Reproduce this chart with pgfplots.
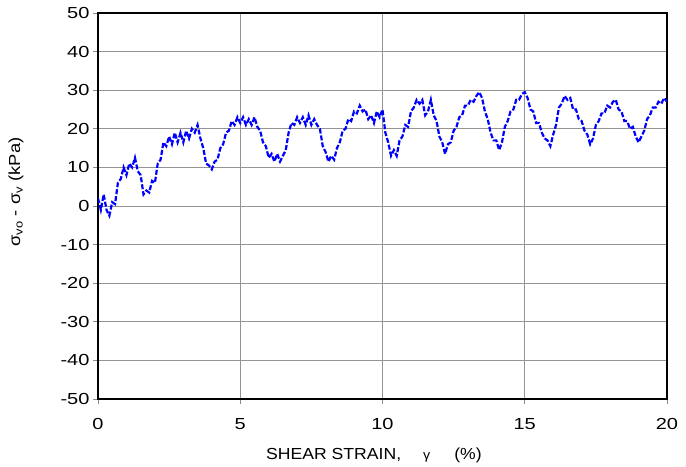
\documentclass[border=0pt]{standalone}
\usepackage{fontspec}
\setmainfont{Liberation Sans}
\newfontfamily\tickfont{Liberation Sans}[FakeStretch=1.25]
\newfontfamily\xlabfont{Liberation Sans}[FakeStretch=1.1]
\newfontfamily\ylabfont{Liberation Sans}[FakeStretch=1.15]
\usepackage{pgfplots}
\pgfplotsset{compat=1.18}
\begin{document}
\begin{tikzpicture}
\begin{axis}[name=ax,
  width=569pt, height=386pt, scale only axis,
  xmin=0, xmax=20, ymin=-50, ymax=50,
  xtick={0,5,10,15,20}, ytick={-50,-40,...,50},
  xtick pos=bottom, ytick pos=left,
  tick align=outside, major tick length=5pt,
  tick style={black!45, line width=0.8pt},
  grid=major, grid style={black!42, line width=0.8pt},
  axis line style={black, line width=1.4pt},
  /pgf/number format/assume math mode=true,
  tick label style={font=\tickfont\fontsize{16}{18}\selectfont},
  xticklabel style={yshift=-11pt},
  xlabel={\xlabfont\fontsize{16}{18}\selectfont SHEAR STRAIN,\hspace{22pt}\raisebox{0.5pt}{\fontsize{13}{14}\selectfont γ}\hspace{24pt}(\%)},
  ylabel={\ylabfont\fontsize{16}{18}\selectfont σ\textsubscript{vo} - σ\textsubscript{v} (kPa)},
  xlabel style={at={(axis description cs:0.485,0)}, anchor=base, yshift=-61pt},
  ylabel style={at={([xshift=-71pt]axis description cs:0,0.536)}, anchor=south},
]
\addplot[blue, line width=2.2pt, dash pattern=on 5pt off 2pt] coordinates {
(0.0,2) (0.1,-1) (0.2,3) (0.3,-1) (0.4,-2.5) (0.5,1) (0.6,0.5) (0.7,6) (0.8,7) (0.9,10)
(1.0,8) (1.1,11) (1.2,10) (1.3,12.5) (1.4,9) (1.5,8) (1.6,3) (1.7,4) (1.8,3.5) (1.9,6.5)
(2.0,6) (2.1,11) (2.2,12) (2.3,16.5) (2.4,15.5) (2.5,18) (2.6,16) (2.7,19) (2.8,16.5) (2.9,19)
(3.0,16.5) (3.1,19.5) (3.2,17.5) (3.3,20) (3.4,19) (3.5,21) (3.6,17.5) (3.7,15) (3.8,11) (3.9,10.5)
(4.0,9.5) (4.1,11.5) (4.2,12) (4.3,15) (4.4,16) (4.5,19) (4.6,19.5) (4.7,22) (4.8,21) (4.9,23)
(5.0,21.5) (5.1,23) (5.2,21) (5.3,22.5) (5.4,21) (5.5,23) (5.6,20.5) (5.7,19.5) (5.8,16.5) (5.9,15.5)
(6.0,12.5) (6.1,13.5) (6.2,11.5) (6.3,13.5) (6.4,11.5) (6.5,13) (6.6,14.5) (6.7,19) (6.8,21.5) (6.9,21)
(7.0,23) (7.1,21.5) (7.2,23) (7.3,21) (7.4,23.5) (7.5,21) (7.6,22.5) (7.7,21) (7.8,20) (7.9,15.5)
(8.0,14) (8.1,11.5) (8.2,13) (8.3,12) (8.4,15) (8.5,16.5) (8.6,19.5) (8.7,20) (8.8,22.5) (8.9,22)
(9.0,24.5) (9.1,24) (9.2,26) (9.3,24.5) (9.4,25) (9.5,22.5) (9.6,23.5) (9.7,21.5) (9.8,24.5) (9.9,23)
(10.0,25) (10.1,19) (10.2,16.5) (10.3,13) (10.4,14.5) (10.5,13) (10.6,17) (10.7,18) (10.8,21) (10.9,20.5)
(11.0,24.5) (11.1,25.5) (11.2,27.5) (11.3,26.5) (11.4,27.5) (11.5,23.5) (11.6,24.5) (11.7,27.5) (11.8,23.5) (11.9,22)
(12.0,18) (12.1,16.5) (12.2,13.5) (12.3,16) (12.4,16.5) (12.5,19.5) (12.6,20.5) (12.7,23) (12.8,23.5) (12.9,26)
(13.0,26) (13.1,27.5) (13.2,27) (13.3,28.5) (13.4,29.5) (13.5,28) (13.6,24.5) (13.7,22.5) (13.8,19) (13.9,17)
(14.0,17) (14.1,14.5) (14.2,16.5) (14.3,20.5) (14.4,22) (14.5,24.5) (14.6,25) (14.7,27.5) (14.8,27.5) (14.9,29)
(15.0,29.5) (15.1,28) (15.2,25) (15.3,24.5) (15.4,21.5) (15.5,21.5) (15.6,19) (15.7,17.5) (15.8,17) (15.9,15.5)
(16.0,18.5) (16.1,21) (16.2,25.5) (16.3,26.5) (16.4,28.5) (16.5,27.5) (16.6,28) (16.7,25) (16.8,25) (16.9,22.5)
(17.0,22) (17.1,19.5) (17.2,18.5) (17.3,16) (17.4,17.5) (17.5,21) (17.6,22) (17.7,24) (17.8,24) (17.9,26)
(18.0,25.5) (18.1,27) (18.2,27.5) (18.3,25) (18.4,24.5) (18.5,22) (18.6,22) (18.7,20) (18.8,20.5) (18.9,18)
(19.0,16.5) (19.1,18) (19.2,19.5) (19.3,22.5) (19.4,23.5) (19.5,25.5) (19.6,25.5) (19.7,27) (19.8,26.5) (19.9,28)
(20.0,27)
};
\end{axis}
\path (ax.south west) ++(-98pt,-66pt) rectangle ++(686pt,465pt);
\end{tikzpicture}
\end{document}
